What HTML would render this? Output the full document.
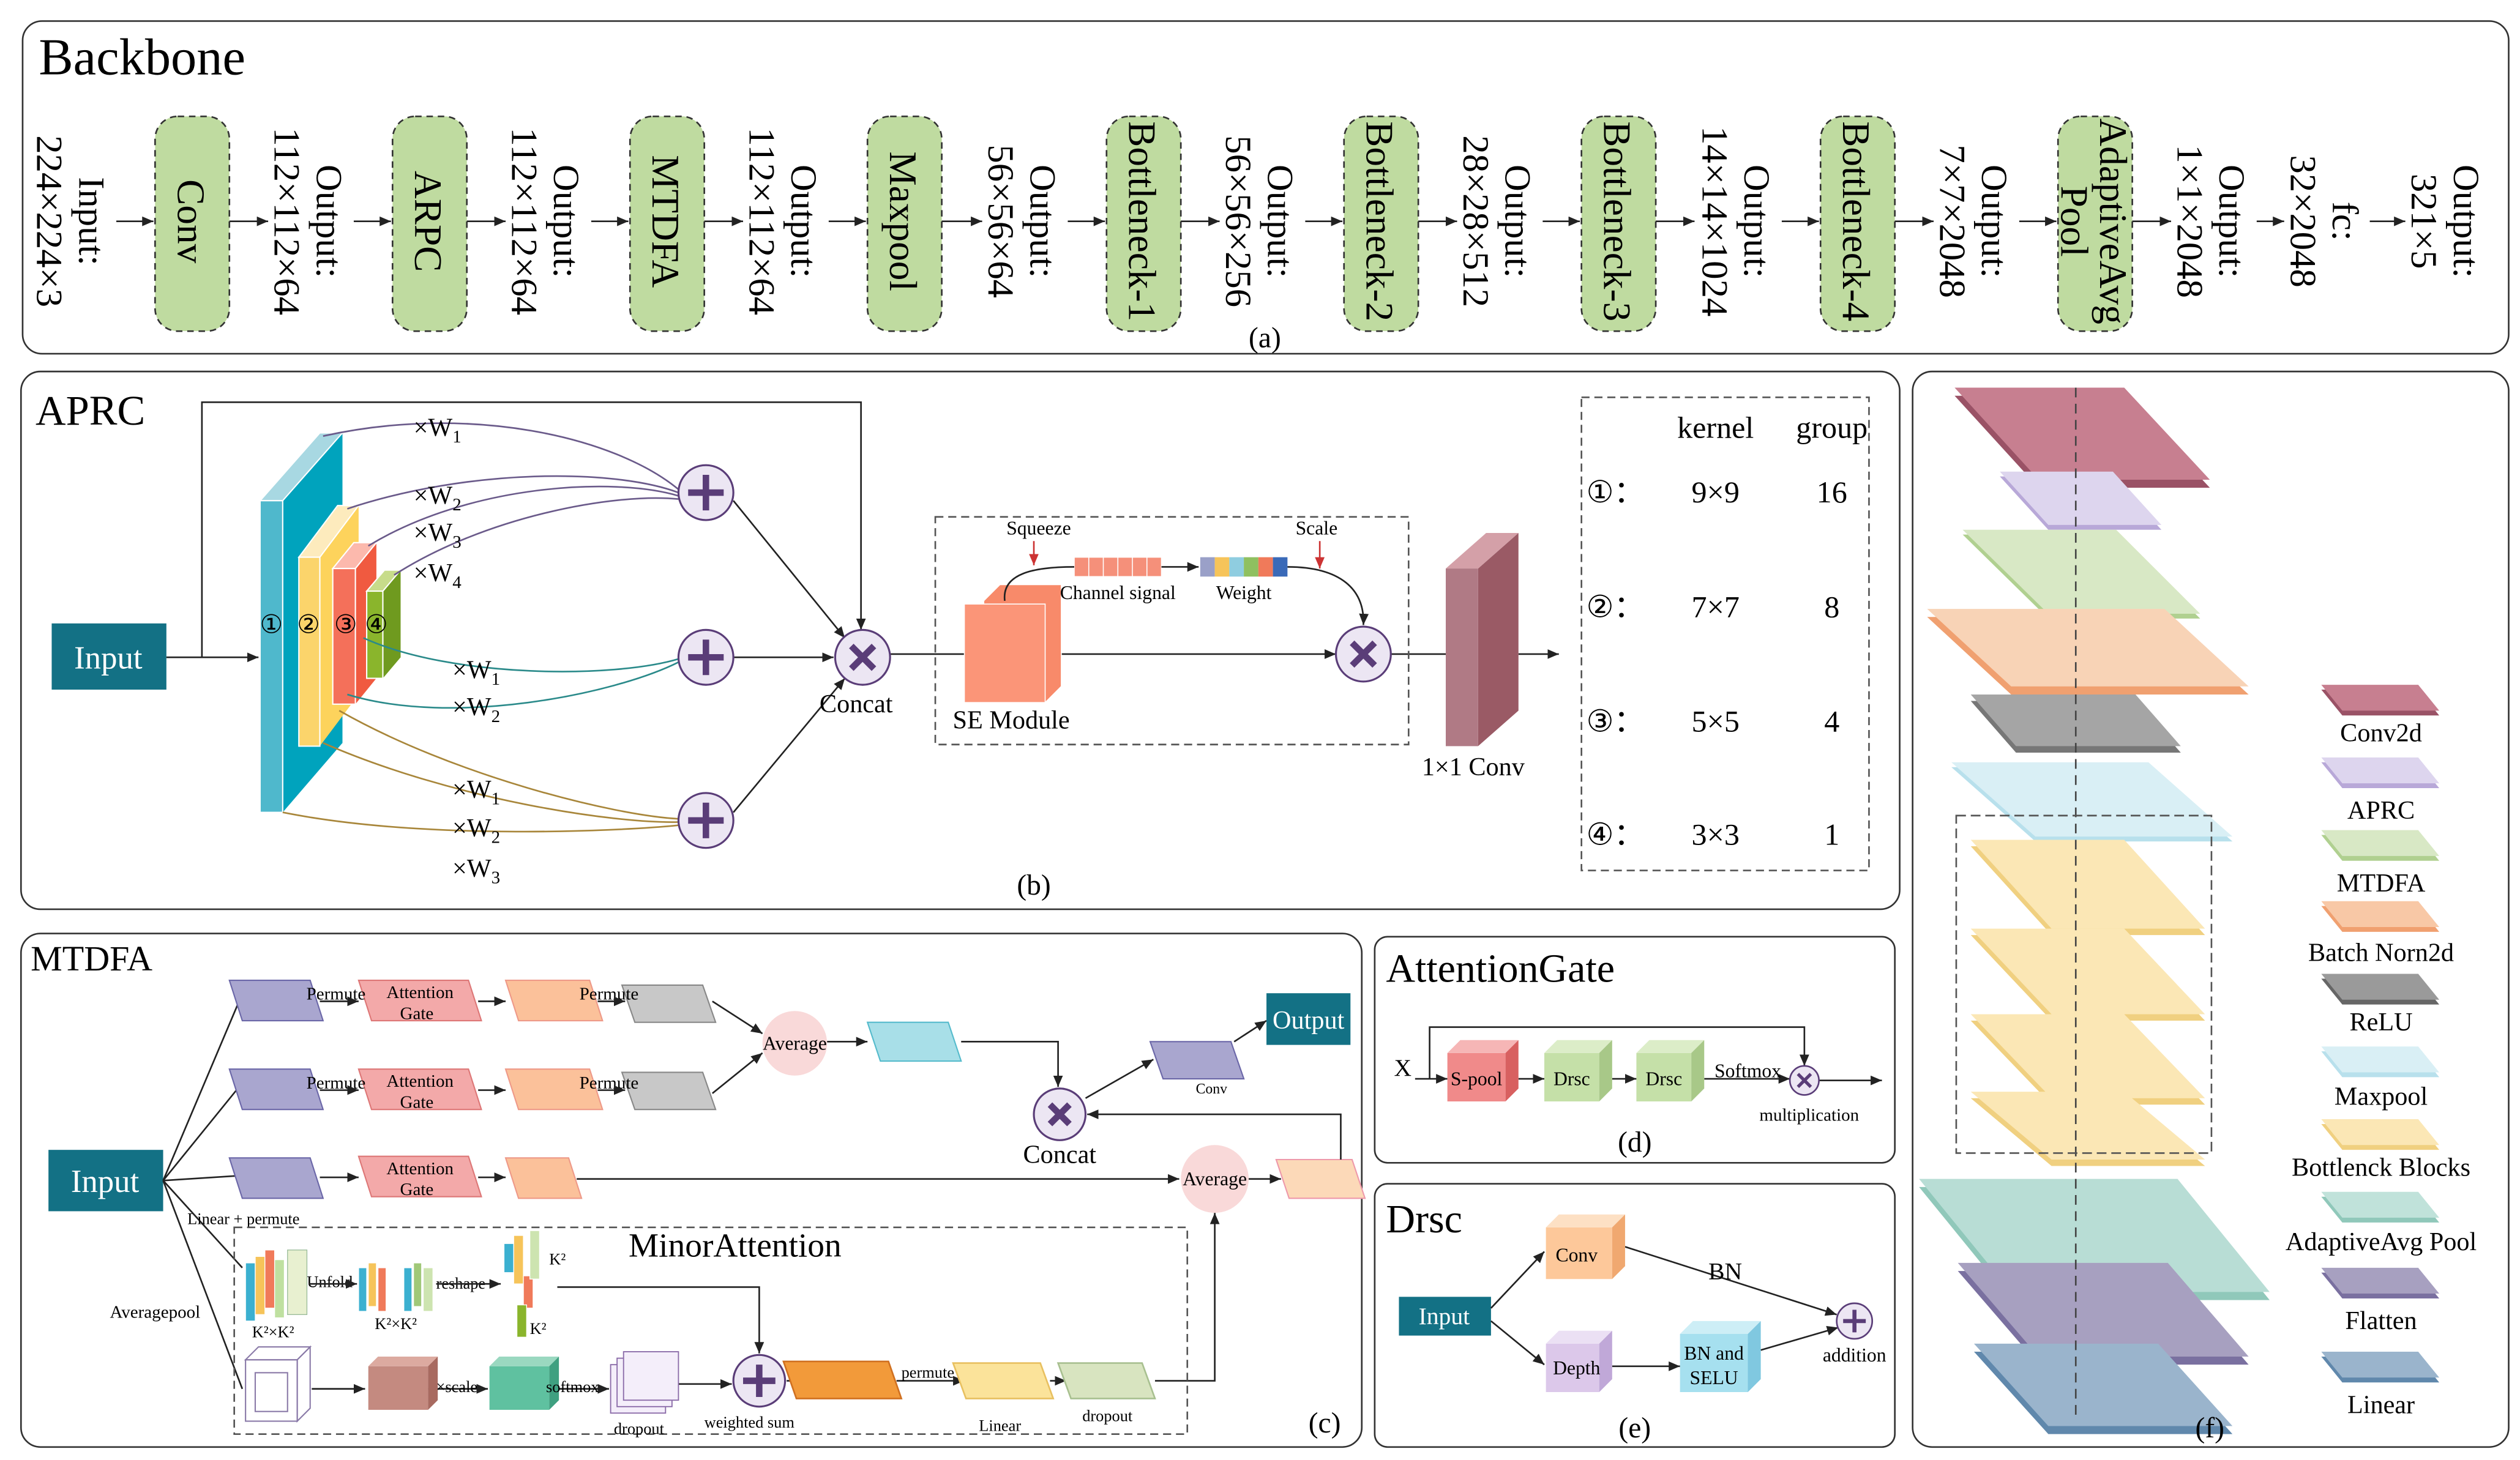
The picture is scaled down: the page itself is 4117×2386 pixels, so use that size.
<!DOCTYPE html>
<html><head><meta charset="utf-8"><style>html,body{margin:0;padding:0;background:#fff}svg{display:block}</style></head><body>
<svg xmlns="http://www.w3.org/2000/svg" width="4117" height="2386" viewBox="0 0 1560 904" font-family="Liberation Serif, serif">
<defs>
<marker id="a" markerWidth="8" markerHeight="8" refX="7" refY="3" orient="auto" markerUnits="userSpaceOnUse"><path d="M0,0 L7,3 L0,6z" fill="#222"/></marker>
<marker id="ar" markerWidth="8" markerHeight="8" refX="7" refY="3" orient="auto" markerUnits="userSpaceOnUse"><path d="M0,0 L7,3 L0,6z" fill="#c33"/></marker>
</defs>
<rect width="1560" height="904" fill="#fff"/>
<g fill="none" stroke="#333" stroke-width="1">
<rect x="14" y="13" width="1539" height="206" rx="12"/>
<rect x="13" y="230" width="1163" height="333" rx="12"/>
<rect x="13" y="578" width="830" height="318" rx="12"/>
<rect x="851" y="580" width="322" height="140" rx="8"/>
<rect x="851" y="733" width="322" height="163" rx="8"/>
<rect x="1184" y="230" width="369" height="666" rx="12"/>
</g>

<text x="24" y="46" font-size="32">Backbone</text>
<g fill="#bfdba0" stroke="#333" stroke-dasharray="4,3" stroke-width="1">
<rect x="96" y="72" width="46" height="133" rx="14"/><rect x="243" y="72" width="46" height="133" rx="14"/><rect x="390" y="72" width="46" height="133" rx="14"/><rect x="537" y="72" width="46" height="133" rx="14"/><rect x="685" y="72" width="46" height="133" rx="14"/><rect x="832" y="72" width="46" height="133" rx="14"/><rect x="979" y="72" width="46" height="133" rx="14"/><rect x="1127" y="72" width="46" height="133" rx="14"/><rect x="1274" y="72" width="46" height="133" rx="14"/>
</g>
<g font-size="24" text-anchor="middle">
<text transform="translate(119,137) rotate(90)" y="9">Conv</text>
<text transform="translate(266,137) rotate(90)" y="9">ARPC</text>
<text transform="translate(413,137) rotate(90)" y="9">MTDFA</text>
<text transform="translate(560,137) rotate(90)" y="9">Maxpool</text>
<text transform="translate(708,137) rotate(90)" y="9">Bottleneck-1</text>
<text transform="translate(855,137) rotate(90)" y="9">Bottleneck-2</text>
<text transform="translate(1002,137) rotate(90)" y="9">Bottleneck-3</text>
<text transform="translate(1150,137) rotate(90)" y="9">Bottleneck-4</text>
<text transform="translate(1297,137) rotate(90)"><tspan x="0" y="-3">AdaptiveAvg</tspan><tspan x="0" y="21">Pool</tspan></text>
</g>
<g font-size="23" text-anchor="middle">
<text transform="translate(45,137) rotate(90)"><tspan x="0" y="-4">Input:</tspan><tspan x="0" y="22">224×224×3</tspan></text>
<text transform="translate(192,137) rotate(90)"><tspan x="0" y="-4">Output:</tspan><tspan x="0" y="22">112×112×64</tspan></text>
<text transform="translate(339,137) rotate(90)"><tspan x="0" y="-4">Output:</tspan><tspan x="0" y="22">112×112×64</tspan></text>
<text transform="translate(486,137) rotate(90)"><tspan x="0" y="-4">Output:</tspan><tspan x="0" y="22">112×112×64</tspan></text>
<text transform="translate(634,137) rotate(90)"><tspan x="0" y="-4">Output:</tspan><tspan x="0" y="22">56×56×64</tspan></text>
<text transform="translate(781,137) rotate(90)"><tspan x="0" y="-4">Output:</tspan><tspan x="0" y="22">56×56×256</tspan></text>
<text transform="translate(928,137) rotate(90)"><tspan x="0" y="-4">Output:</tspan><tspan x="0" y="22">28×28×512</tspan></text>
<text transform="translate(1076,137) rotate(90)"><tspan x="0" y="-4">Output:</tspan><tspan x="0" y="22">14×14×1024</tspan></text>
<text transform="translate(1223,137) rotate(90)"><tspan x="0" y="-4">Output:</tspan><tspan x="0" y="22">7×7×2048</tspan></text>
<text transform="translate(1370,137) rotate(90)"><tspan x="0" y="-4">Output:</tspan><tspan x="0" y="22">1×1×2048</tspan></text>
<text transform="translate(1440,137) rotate(90)"><tspan x="0" y="-4">fc:</tspan><tspan x="0" y="22">32×2048</tspan></text>
<text transform="translate(1515,137) rotate(90)"><tspan x="0" y="-4">Output:</tspan><tspan x="0" y="22">321×5</tspan></text>
</g>
<g stroke="#222" stroke-width="1" marker-end="url(#a)">
<line x1="72" y1="137" x2="95" y2="137"/><line x1="142" y1="137" x2="166" y2="137"/>
<line x1="219" y1="137" x2="242" y2="137"/><line x1="289" y1="137" x2="313" y2="137"/>
<line x1="366" y1="137" x2="389" y2="137"/><line x1="436" y1="137" x2="460" y2="137"/>
<line x1="513" y1="137" x2="536" y2="137"/><line x1="583" y1="137" x2="608" y2="137"/>
<line x1="661" y1="137" x2="684" y2="137"/><line x1="731" y1="137" x2="755" y2="137"/>
<line x1="808" y1="137" x2="831" y2="137"/><line x1="878" y1="137" x2="902" y2="137"/>
<line x1="955" y1="137" x2="978" y2="137"/><line x1="1025" y1="137" x2="1049" y2="137"/>
<line x1="1103" y1="137" x2="1126" y2="137"/><line x1="1173" y1="137" x2="1197" y2="137"/>
<line x1="1250" y1="137" x2="1273" y2="137"/><line x1="1320" y1="137" x2="1344" y2="137"/>
<line x1="1397" y1="137" x2="1414" y2="137"/><line x1="1467" y1="137" x2="1489" y2="137"/>
</g>
<text x="783" y="215" font-size="18" text-anchor="middle">(a)</text>

<text x="22" y="263" font-size="26">APRC</text>
<rect x="32" y="386" width="71" height="41" fill="#137185"/>
<text x="67" y="414" font-size="20" fill="#fff" text-anchor="middle">Input</text>
<g stroke="#222" fill="none" stroke-width="1">
<line x1="103" y1="407" x2="160" y2="407" marker-end="url(#a)"/>
<polyline points="125,407 125,249 533,249 533,390" marker-end="url(#a)"/>
</g>
<polygon points="175,310 212,268 212,460 175,503" fill="#00a3bd"/>
<polygon points="161,310 198,268 212,268 175,310" fill="#a8d8e2" stroke="#fff" stroke-width="0.8"/>
<rect x="161" y="310" width="14" height="193" fill="#4fb8cc" stroke="#fff" stroke-width="0.8"/>
<polygon points="198,345 222,313 222,430 198,462" fill="#fdd35c"/>
<polygon points="185,345 209,313 222,313 198,345" fill="#fdebbd" stroke="#fff" stroke-width="0.8"/>
<rect x="185" y="345" width="13" height="117" fill="#fbd46b" stroke="#fff" stroke-width="0.8"/>
<polygon points="220,352 233,336 233,420 220,436" fill="#f05a40"/>
<polygon points="206,352 219,336 233,336 220,352" fill="#fcb9ad" stroke="#fff" stroke-width="0.8"/>
<rect x="206" y="352" width="14" height="84" fill="#f4705a" stroke="#fff" stroke-width="0.8"/>
<polygon points="237,366 248,353 248,407 237,420" fill="#6f9a1f"/>
<polygon points="227,366 238,353 248,353 237,366" fill="#c7dc8a" stroke="#fff" stroke-width="0.8"/>
<rect x="227" y="366" width="10" height="54" fill="#8ab52c" stroke="#fff" stroke-width="0.8"/>
<g font-size="16" text-anchor="middle"><text x="168" y="392">①</text><text x="191" y="392">②</text><text x="214" y="392">③</text><text x="233" y="392">④</text></g>
<g fill="none" stroke-width="1">
<path d="M200,270 C290,250 380,270 420,303" stroke="#6a5a8a"/>
<path d="M215,315 C290,290 380,290 420,305" stroke="#6a5a8a"/>
<path d="M228,338 C290,300 380,295 420,307" stroke="#6a5a8a"/>
<path d="M244,356 C300,320 380,305 420,309" stroke="#6a5a8a"/>
<path d="M225,395 C280,420 380,420 420,408" stroke="#2a8a8a"/>
<path d="M215,430 C280,450 380,430 420,410" stroke="#2a8a8a"/>
<path d="M210,440 C280,480 380,505 420,507" stroke="#a8863a"/>
<path d="M200,460 C280,495 380,510 420,509" stroke="#a8863a"/>
<path d="M175,503 C260,520 380,515 420,511" stroke="#a8863a"/>
</g>
<g font-size="16"><text x="256" y="270">×W<tspan font-size="11" dy="4">1</tspan></text><text x="256" y="312">×W<tspan font-size="11" dy="4">2</tspan></text><text x="256" y="335">×W<tspan font-size="11" dy="4">3</tspan></text><text x="256" y="360">×W<tspan font-size="11" dy="4">4</tspan></text>
<text x="280" y="420">×W<tspan font-size="11" dy="4">1</tspan></text><text x="280" y="443">×W<tspan font-size="11" dy="4">2</tspan></text>
<text x="280" y="494">×W<tspan font-size="11" dy="4">1</tspan></text><text x="280" y="518">×W<tspan font-size="11" dy="4">2</tspan></text><text x="280" y="543">×W<tspan font-size="11" dy="4">3</tspan></text></g>
<g stroke="#222" fill="none"><line x1="454" y1="310" x2="523" y2="395" marker-end="url(#a)"/><line x1="454" y1="407" x2="516" y2="407" marker-end="url(#a)"/><line x1="454" y1="503" x2="523" y2="420" marker-end="url(#a)"/>
<line x1="551" y1="405" x2="827" y2="405" marker-end="url(#a)"/><line x1="861" y1="405" x2="895" y2="405"/><line x1="940" y1="405" x2="965" y2="405" marker-end="url(#a)"/></g>
<g fill="#ece6f3" stroke="#5a3d78" stroke-width="1.2"><circle cx="437" cy="305" r="17"/><circle cx="437" cy="407" r="17"/><circle cx="437" cy="508" r="17"/><circle cx="534" cy="407" r="17"/><circle cx="844" cy="405" r="17"/></g>
<g stroke="#5a3d78" stroke-width="4"><path d="M437,294v22M426,305h22M437,396v22M426,407h22M437,497v22M426,508h22"/><path d="M527,400l14,14M541,400l-14,14M837,398l14,14M851,398l-14,14"/></g>
<text x="530" y="441" font-size="16" text-anchor="middle">Concat</text>
<rect x="579" y="320" width="293" height="141" fill="none" stroke="#555" stroke-dasharray="5,3"/>
<g stroke="#fff" stroke-width="0.6"><polygon points="609,372 619,362 657,362 657,425 647,435 609,435" fill="#f88a6a"/><rect x="597" y="374" width="50" height="61" fill="#fb9578"/><line x1="600" y1="372" x2="610" y2="362"/><line x1="603" y1="370" x2="613" y2="360"/></g>
<text x="626" y="451" font-size="16" text-anchor="middle">SE Module</text>
<g stroke="#fff" stroke-width="0.6"><rect x="665" y="345" width="54" height="12" fill="#f5907a"/><line x1="674" y1="345" x2="674" y2="357"/><line x1="683" y1="345" x2="683" y2="357"/><line x1="692" y1="345" x2="692" y2="357"/><line x1="701" y1="345" x2="701" y2="357"/><line x1="710" y1="345" x2="710" y2="357"/></g>
<g><rect x="743" y="345" width="9" height="12" fill="#9aa0c8"/><rect x="752" y="345" width="9" height="12" fill="#f6c45a"/><rect x="761" y="345" width="9" height="12" fill="#8fcde0"/><rect x="770" y="345" width="9" height="12" fill="#8fc060"/><rect x="779" y="345" width="9" height="12" fill="#f07a5a"/><rect x="788" y="345" width="9" height="12" fill="#3a6ab8"/></g>
<g fill="none" stroke="#222"><path d="M622,372 C620,355 640,351 665,351"/><line x1="719" y1="351" x2="742" y2="351" marker-end="url(#a)"/><path d="M797,351 C830,351 845,365 844,387" marker-end="url(#a)"/></g>
<g stroke="#c33" marker-end="url(#ar)"><line x1="640" y1="335" x2="640" y2="350"/><line x1="817" y1="335" x2="817" y2="352"/></g>
<g font-size="12" text-anchor="middle"><text x="643" y="331">Squeeze</text><text x="815" y="331">Scale</text><text x="692" y="371">Channel signal</text><text x="770" y="371">Weight</text></g>
<polygon points="915,352 940,330 940,440 915,462" fill="#9a5a65"/>
<polygon points="895,352 920,330 940,330 915,352" fill="#d4a0a8"/>
<rect x="895" y="352" width="20" height="110" fill="#b07a85"/>
<text x="912" y="480" font-size="16" text-anchor="middle">1×1 Conv</text>
<rect x="979" y="246" width="178" height="293" fill="none" stroke="#555" stroke-dasharray="5,3"/>
<g font-size="19" text-anchor="middle"><text x="1062" y="271">kernel</text><text x="1134" y="271">group</text>
<text x="1000" y="311">①：</text><text x="1062" y="311">9×9</text><text x="1134" y="311">16</text>
<text x="1000" y="382">②：</text><text x="1062" y="382">7×7</text><text x="1134" y="382">8</text>
<text x="1000" y="453">③：</text><text x="1062" y="453">5×5</text><text x="1134" y="453">4</text>
<text x="1000" y="523">④：</text><text x="1062" y="523">3×3</text><text x="1134" y="523">1</text></g>
<text x="640" y="554" font-size="18" text-anchor="middle">(b)</text>

<text x="19" y="601" font-size="22">MTDFA</text>
<rect x="30" y="712" width="71" height="38" fill="#137185"/>
<text x="65" y="738" font-size="20" fill="#fff" text-anchor="middle">Input</text>
<g fill="none" stroke="#222"><line x1="101" y1="731" x2="148" y2="620"/><line x1="101" y1="731" x2="148" y2="673"/><line x1="101" y1="731" x2="148" y2="728"/><line x1="101" y1="731" x2="150" y2="785"/><line x1="101" y1="731" x2="150" y2="860"/></g>
<g stroke-width="0.8">
<polygon points="142,607 192,607 200,632 150,632" fill="#a9a6cf" stroke="#6b67a8"/>
<polygon points="222,607 290,607 298,632 230,632" fill="#f3a9a9" stroke="#d77"/>
<polygon points="313,607 365,607 373,632 321,632" fill="#fbc19a" stroke="#e98"/>
<polygon points="385,610 435,610 443,633 393,633" fill="#c8c8c8" stroke="#888"/>
<polygon points="142,662 192,662 200,687 150,687" fill="#a9a6cf" stroke="#6b67a8"/>
<polygon points="222,662 290,662 298,687 230,687" fill="#f3a9a9" stroke="#d77"/>
<polygon points="313,662 365,662 373,687 321,687" fill="#fbc19a" stroke="#e98"/>
<polygon points="385,664 435,664 443,687 393,687" fill="#c8c8c8" stroke="#888"/>
<polygon points="142,717 192,717 200,742 150,742" fill="#a9a6cf" stroke="#6b67a8"/>
<polygon points="222,716 290,716 298,741 230,741" fill="#f3a9a9" stroke="#d77"/>
<polygon points="313,717 352,717 360,742 321,742" fill="#fbc19a" stroke="#e98"/>
<polygon points="537,633 587,633 595,657 545,657" fill="#a8dfe8" stroke="#5bc"/>
<polygon points="712,645 762,645 770,668 720,668" fill="#a9a6cf" stroke="#6b67a8"/>
<polygon points="790,718 837,718 845,742 798,742" fill="#fcd9b8" stroke="#e9a"/>
</g>
<g font-size="11" text-anchor="middle"><text x="260" y="618">Attention</text><text x="258" y="631">Gate</text><text x="260" y="673">Attention</text><text x="258" y="686">Gate</text><text x="260" y="727">Attention</text><text x="258" y="740">Gate</text>
<text x="208" y="619">Permute</text><text x="377" y="619">Permute</text><text x="208" y="674">Permute</text><text x="377" y="674">Permute</text><text x="750" y="677" font-size="9">Conv</text></g>
<g stroke="#222" fill="none" marker-end="url(#a)"><line x1="198" y1="620" x2="222" y2="620"/><line x1="296" y1="620" x2="313" y2="620"/><line x1="370" y1="620" x2="387" y2="620"/>
<line x1="198" y1="675" x2="222" y2="675"/><line x1="296" y1="675" x2="313" y2="675"/><line x1="370" y1="675" x2="387" y2="675"/>
<line x1="198" y1="729" x2="222" y2="729"/><line x1="296" y1="729" x2="313" y2="729"/><line x1="357" y1="730" x2="730" y2="730"/>
<line x1="441" y1="620" x2="472" y2="640"/><line x1="441" y1="677" x2="472" y2="652"/><line x1="512" y1="645" x2="537" y2="645"/>
<polyline points="595,645 655,645 655,673"/><line x1="672" y1="680" x2="714" y2="656"/><line x1="764" y1="645" x2="784" y2="632"/>
<polyline points="830,718 830,690 673,690"/><line x1="773" y1="730" x2="793" y2="730"/>
<polyline points="715,855 752,855 752,751"/><polyline points="345,797 470,797 470,838"/></g>
<circle cx="492" cy="646" r="20" fill="#f9d9d9"/><text x="492" y="650" font-size="12" text-anchor="middle">Average</text>
<circle cx="752" cy="730" r="21" fill="#f9d9d9"/><text x="752" y="734" font-size="12" text-anchor="middle">Average</text>
<circle cx="656" cy="690" r="16" fill="#ece6f3" stroke="#5a3d78" stroke-width="1.2"/><path d="M650,684l12,12M662,684l-12,12" stroke="#5a3d78" stroke-width="4"/>
<text x="656" y="720" font-size="16" text-anchor="middle">Concat</text>
<rect x="784" y="615" width="52" height="32" fill="#137185"/><text x="810" y="637" font-size="16" fill="#fff" text-anchor="middle">Output</text>
<text x="116" y="758" font-size="10">Linear + permute</text>
<text x="68" y="816" font-size="11">Averagepool</text>
<rect x="145" y="760" width="590" height="128" fill="none" stroke="#555" stroke-dasharray="5,3"/>
<text x="455" y="778" font-size="21" text-anchor="middle">MinorAttention</text>
<g stroke="#fff" stroke-width="0.5">
<rect x="152" y="782" width="6" height="36" fill="#3bb0d0"/><rect x="158" y="778" width="6" height="36" fill="#f6c45a"/><rect x="164" y="774" width="6" height="36" fill="#f07a5a"/><rect x="170" y="780" width="6" height="36" fill="#bfe0a0"/><rect x="178" y="774" width="12" height="40" fill="#e8f0d0" stroke="#9b9"/>
<rect x="222" y="785" width="5" height="27" fill="#3bb0d0"/><rect x="228" y="782" width="5" height="27" fill="#f6c45a"/><rect x="234" y="785" width="5" height="27" fill="#f07a5a"/><rect x="250" y="785" width="5" height="27" fill="#3bb0d0"/><rect x="256" y="782" width="5" height="27" fill="#a0c878"/><rect x="262" y="785" width="6" height="27" fill="#cde4b0"/>
<rect x="312" y="770" width="6" height="18" fill="#3bb0d0"/><rect x="318" y="765" width="6" height="30" fill="#f6c45a"/><rect x="324" y="790" width="6" height="20" fill="#f07a5a"/><rect x="320" y="808" width="6" height="20" fill="#8ab52c"/><rect x="328" y="762" width="6" height="30" fill="#cde4b0"/>
</g>
<g font-size="10"><text x="190" y="797">Unfold</text><text x="270" y="798">reshape</text><text x="156" y="828">K²×K²</text><text x="232" y="823">K²×K²</text><text x="340" y="783">K²</text><text x="328" y="826">K²</text></g>
<g stroke="#222" marker-end="url(#a)"><line x1="191" y1="795" x2="221" y2="795"/><line x1="270" y1="795" x2="310" y2="795"/><line x1="193" y1="860" x2="226" y2="860"/><line x1="265" y1="860" x2="302" y2="860"/><line x1="340" y1="860" x2="377" y2="860"/><line x1="420" y1="857" x2="453" y2="857"/><line x1="487" y1="855" x2="500" y2="855"/><line x1="555" y1="855" x2="597" y2="855"/><line x1="650" y1="855" x2="660" y2="855"/></g>
<g fill="none" stroke="#8a7aa8" stroke-width="0.8"><rect x="152" y="842" width="32" height="38"/><polygon points="152,842 160,834 192,834 184,842"/><polygon points="184,842 192,834 192,872 184,880"/><rect x="158" y="850" width="20" height="24"/></g>
<polygon points="228,846 265,846 265,873 228,873" fill="#c48a80"/><polygon points="228,846 234,840 271,840 265,846" fill="#dcaaa0"/><polygon points="265,846 271,840 271,867 265,873" fill="#a86a60"/>
<polygon points="303,846 340,846 340,873 303,873" fill="#5fc1a0"/><polygon points="303,846 309,840 346,840 340,846" fill="#9ad8c0"/><polygon points="340,846 346,840 346,867 340,873" fill="#3fa080"/>
<g fill="#f4eefa" stroke="#8a6aa8" stroke-width="0.7"><rect x="378" y="845" width="34" height="30"/><rect x="382" y="841" width="34" height="30"/><rect x="386" y="837" width="34" height="30"/></g>
<g font-size="10"><text x="270" y="862">×scale</text><text x="338" y="862">softmox</text><text x="380" y="888">dropout</text><text x="436" y="884">weighted sum</text><text x="491" y="852">fold</text><text x="558" y="853">permute</text><text x="606" y="886">Linear</text><text x="670" y="880">dropout</text></g>
<circle cx="470" cy="855" r="16" fill="#ece6f3" stroke="#5a3d78" stroke-width="1.2"/><path d="M470,845v20M460,855h20" stroke="#5a3d78" stroke-width="4"/>
<polygon points="485,843 550,843 558,866 493,866" fill="#f29a3a" stroke="#d07020"/>
<polygon points="590,844 644,844 652,866 598,866" fill="#fbe39a" stroke="#e8c060"/>
<polygon points="655,844 707,844 715,866 663,866" fill="#d8e4c0" stroke="#a8c090"/>
<text x="820" y="887" font-size="18" text-anchor="middle">(c)</text>

<text x="858" y="608" font-size="25">AttentionGate</text>
<text x="863" y="666" font-size="15">X</text>
<g stroke="#222" fill="none"><line x1="876" y1="668" x2="896" y2="668" marker-end="url(#a)"/><polyline points="885,668 885,636 1117,636 1117,660" marker-end="url(#a)"/>
<line x1="940" y1="668" x2="956" y2="668" marker-end="url(#a)"/><line x1="998" y1="668" x2="1013" y2="668" marker-end="url(#a)"/><line x1="1055" y1="668" x2="1108" y2="668" marker-end="url(#a)"/><line x1="1126" y1="669" x2="1165" y2="669" marker-end="url(#a)"/></g>
<polygon points="896,652 932,652 932,682 896,682" fill="#f08a8a"/><polygon points="896,652 904,644 940,644 932,652" fill="#f6b6b6"/><polygon points="932,652 940,644 940,674 932,682" fill="#d86060"/>
<polygon points="956,652 990,652 990,682 956,682" fill="#c5e0a8"/><polygon points="956,652 964,644 998,644 990,652" fill="#dcedc8"/><polygon points="990,652 998,644 998,674 990,682" fill="#a8c888"/>
<polygon points="1013,652 1047,652 1047,682 1013,682" fill="#c5e0a8"/><polygon points="1013,652 1021,644 1055,644 1047,652" fill="#dcedc8"/><polygon points="1047,652 1055,644 1055,674 1047,682" fill="#a8c888"/>
<g font-size="12" text-anchor="middle"><text x="914" y="672">S-pool</text><text x="973" y="672">Drsc</text><text x="1030" y="672">Drsc</text><text x="1082" y="667">Softmox</text><text x="1120" y="694" font-size="11">multiplication</text></g>
<circle cx="1117" cy="669" r="9" fill="#ece6f3" stroke="#5a3d78"/><path d="M1113,665l8,8M1121,665l-8,8" stroke="#5a3d78" stroke-width="2"/>
<text x="1012" y="713" font-size="18" text-anchor="middle">(d)</text>

<text x="858" y="763" font-size="25">Drsc</text>
<rect x="866" y="803" width="57" height="24" fill="#137185"/><text x="894" y="820" font-size="15" fill="#fff" text-anchor="middle">Input</text>
<g stroke="#222" fill="none"><line x1="923" y1="810" x2="956" y2="775" marker-end="url(#a)"/><line x1="923" y1="818" x2="956" y2="845" marker-end="url(#a)"/>
<line x1="1006" y1="772" x2="1137" y2="814" marker-end="url(#a)"/><line x1="998" y1="846" x2="1040" y2="846" marker-end="url(#a)"/><line x1="1090" y1="836" x2="1138" y2="822" marker-end="url(#a)"/></g>
<polygon points="957,760 998,760 998,792 957,792" fill="#fdc89a"/><polygon points="957,760 965,752 1006,752 998,760" fill="#fde0c4"/><polygon points="998,760 1006,752 1006,784 998,792" fill="#f0a870"/>
<polygon points="957,832 990,832 990,862 957,862" fill="#dcc8ea"/><polygon points="957,832 965,824 998,824 990,832" fill="#ebe0f4"/><polygon points="990,832 998,824 998,854 990,862" fill="#c0a8d8"/>
<polygon points="1040,826 1082,826 1082,862 1040,862" fill="#a6e0ef"/><polygon points="1040,826 1048,818 1090,818 1082,826" fill="#cdeef6"/><polygon points="1082,826 1090,818 1090,854 1082,862" fill="#80c8e0"/>
<g font-size="12" text-anchor="middle"><text x="976" y="781">Conv</text><text x="976" y="851">Depth</text><text x="1061" y="842">BN and</text><text x="1061" y="857">SELU</text><text x="1148" y="843">addition</text></g>
<text x="1068" y="792" font-size="15" text-anchor="middle">BN</text>
<circle cx="1148" cy="818" r="11" fill="#ece6f3" stroke="#5a3d78"/><path d="M1148,811v14M1141,818h14" stroke="#5a3d78" stroke-width="2.5"/>
<text x="1012" y="890" font-size="18" text-anchor="middle">(e)</text>

<!-- (f) slabs: darker base offset, then top -->
<g>
<polygon points="1210,245 1315,245 1368,302 1262,302" fill="#9a5266"/><polygon points="1210,240 1315,240 1368,297 1262,297" fill="#c77f90"/>
<polygon points="1238,295 1308,295 1338,328 1268,328" fill="#b8a8d8"/><polygon points="1238,292 1308,292 1338,325 1268,325" fill="#ddd5ee"/>
<polygon points="1215,331 1310,331 1362,383 1268,383" fill="#b0d090"/><polygon points="1215,328 1310,328 1362,380 1268,380" fill="#d8e8c5"/>
<polygon points="1193,382 1340,382 1392,430 1245,430" fill="#f0a070"/><polygon points="1193,377 1340,377 1392,425 1245,425" fill="#f8d3b6"/>
<polygon points="1220,434 1322,434 1350,466 1248,466" fill="#777"/><polygon points="1220,430 1322,430 1350,462 1248,462" fill="#a5a5a5"/>
<polygon points="1208,475 1330,475 1382,521 1260,521" fill="#b8e0ec"/><polygon points="1208,472 1330,472 1382,518 1260,518" fill="#d9eff5"/>
<polygon points="1220,524 1315,524 1365,579 1270,579" fill="#f0d080"/><polygon points="1220,520 1315,520 1365,575 1270,575" fill="#fbe7b5"/>
<polygon points="1220,579 1315,579 1365,632 1270,632" fill="#f0d080"/><polygon points="1220,575 1315,575 1365,628 1270,628" fill="#fbe7b5"/>
<polygon points="1220,632 1315,632 1365,684 1270,684" fill="#f0d080"/><polygon points="1220,628 1315,628 1365,680 1270,680" fill="#fbe7b5"/>
<polygon points="1220,680 1315,680 1365,722 1270,722" fill="#f0d080"/><polygon points="1220,676 1315,676 1365,718 1270,718" fill="#fbe7b5"/>
<polygon points="1188,735 1348,735 1405,805 1245,805" fill="#90c8ba"/><polygon points="1188,730 1348,730 1405,800 1245,800" fill="#b8ddd5"/>
<polygon points="1212,787 1342,787 1392,845 1262,845" fill="#7a70a0"/><polygon points="1212,782 1342,782 1392,840 1262,840" fill="#a7a0c0"/>
<polygon points="1222,837 1336,837 1382,888 1268,888" fill="#6088ac"/><polygon points="1222,832 1336,832 1382,883 1268,883" fill="#9ab4cc"/>
</g>
<line x1="1285" y1="240" x2="1285" y2="880" stroke="#444" stroke-dasharray="6,4"/>
<rect x="1211" y="505" width="158" height="209" fill="none" stroke="#555" stroke-dasharray="6,3"/>
<g>
<polygon points="1437,427 1497,427 1510,443 1450,443" fill="#9a5266"/><polygon points="1437,424 1497,424 1510,440 1450,440" fill="#c77f90"/>
<polygon points="1437,472 1497,472 1510,488 1450,488" fill="#b8a8d8"/><polygon points="1437,469 1497,469 1510,485 1450,485" fill="#ddd5ee"/>
<polygon points="1437,517 1497,517 1510,533 1450,533" fill="#b0d090"/><polygon points="1437,514 1497,514 1510,530 1450,530" fill="#d8e8c5"/>
<polygon points="1437,561 1497,561 1510,577 1450,577" fill="#f0a070"/><polygon points="1437,558 1497,558 1510,574 1450,574" fill="#f8c8a6"/>
<polygon points="1437,606 1497,606 1510,622 1450,622" fill="#666"/><polygon points="1437,603 1497,603 1510,619 1450,619" fill="#9a9a9a"/>
<polygon points="1437,651 1497,651 1510,667 1450,667" fill="#b8e0ec"/><polygon points="1437,648 1497,648 1510,664 1450,664" fill="#d9eff5"/>
<polygon points="1437,696 1497,696 1510,712 1450,712" fill="#f0d080"/><polygon points="1437,693 1497,693 1510,709 1450,709" fill="#fbe7b5"/>
<polygon points="1437,741 1497,741 1510,757 1450,757" fill="#90c8ba"/><polygon points="1437,738 1497,738 1510,754 1450,754" fill="#c0e2da"/>
<polygon points="1437,788 1497,788 1510,804 1450,804" fill="#7a70a0"/><polygon points="1437,785 1497,785 1510,801 1450,801" fill="#a7a0c0"/>
<polygon points="1437,840 1497,840 1510,856 1450,856" fill="#6088ac"/><polygon points="1437,837 1497,837 1510,853 1450,853" fill="#9ab4cc"/>
</g>
<g font-size="16" text-anchor="middle"><text x="1474" y="459">Conv2d</text><text x="1474" y="507">APRC</text><text x="1474" y="552">MTDFA</text><text x="1474" y="595">Batch Norn2d</text><text x="1474" y="638">ReLU</text><text x="1474" y="684">Maxpool</text><text x="1474" y="728">Bottlenck Blocks</text><text x="1474" y="774">AdaptiveAvg Pool</text><text x="1474" y="823">Flatten</text><text x="1474" y="875">Linear</text></g>
<text x="1368" y="890" font-size="18" text-anchor="middle">(f)</text>
</svg>
</body></html>
